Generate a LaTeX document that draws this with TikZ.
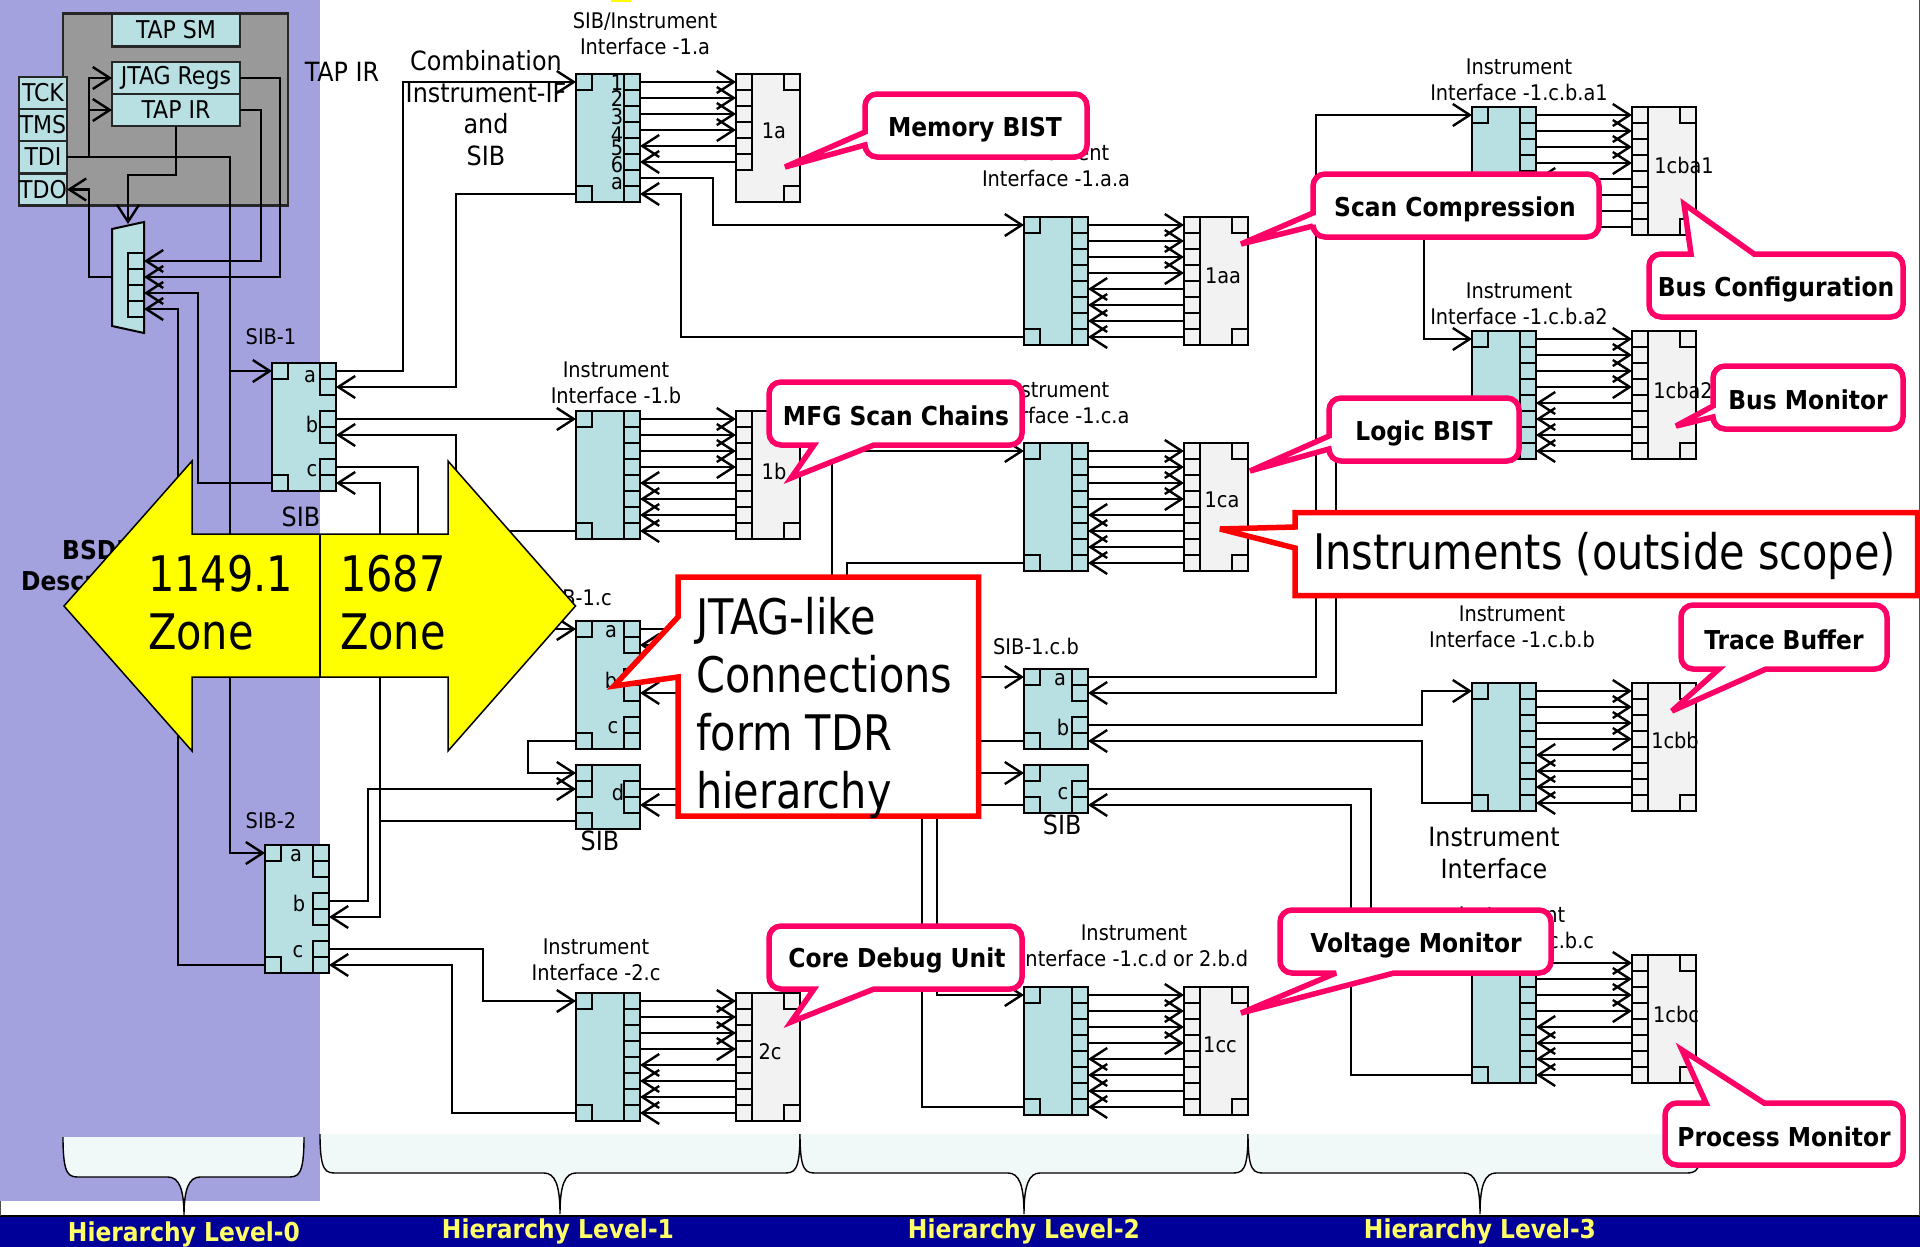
\documentclass[tikz,border=0pt]{standalone}
\usepackage{fontspec}
\setmainfont{DejaVu Sans Condensed}
\newfontfamily\hugefam{DejaVu Sans Condensed}[FakeStretch=0.94]
\usepackage{xcolor}
\usetikzlibrary{arrows.meta, calc}

\definecolor{zonebg}{HTML}{A3A1DE}
\definecolor{ifcyan}{HTML}{B8DFE2}
\definecolor{instgray}{HTML}{F2F2F2}
\definecolor{tapgray}{HTML}{999999}
\definecolor{callpink}{HTML}{FF0066}
\definecolor{barblue}{HTML}{000099}
\definecolor{baryellow}{HTML}{FFFF66}
\definecolor{bracefill}{HTML}{F0F8F8}
\definecolor{zoneyellow}{HTML}{FFFF00}
\definecolor{redline}{HTML}{FF0000}

\tikzset{
    wire/.style={line width=2.4pt},
    cell/.style={draw, line width=2.2pt, fill=none},
    ifbox/.style={draw, line width=2.2pt, fill=ifcyan, inner sep=0pt, outer sep=0pt},
    inbox/.style={draw, line width=2.2pt, fill=instgray, inner sep=0pt, outer sep=0pt},
    tapbox/.style={draw=black!85, line width=2.2pt, fill=ifcyan, inner sep=0pt, outer sep=0pt, minimum height=32pt, font=\tapfont},
    smalltxt/.style={align=center, inner sep=0pt, font=\smallfont},
    bigtxt/.style={align=center, inner sep=0pt, font=\bigfont},
    hugetxt/.style={align=left, anchor=west, inner sep=0pt, font=\hugefont},
    calltxt/.style={inner sep=0pt, yshift=-2.5pt, font=\callfont},
    levtxt/.style={inner sep=0pt, yshift=-2.5pt, text=baryellow, font=\callfont},
    callout/.style={draw=callpink, line width=5.5pt, fill=white, line join=miter, miter limit=4},
    redcall/.style={draw=redline, line width=5.5pt, fill=white, line join=miter, miter limit=6},
    brace/.style={draw, line width=1.4pt, fill=bracefill},
}
\newcommand{\smallfont}{\fontsize{21.5}{26}\selectfont}
\newcommand{\tapfont}{\fontsize{24.5}{26}\selectfont}
\newcommand{\bigfont}{\fontsize{26.5}{31.5}\selectfont}
\newcommand{\hugefont}{\hugefam\fontsize{49}{58}\selectfont}
\newcommand{\callfont}{\fontsize{26}{31}\selectfont\bfseries}

% block of 16pt rows with cells down its sides: style, name, x, y, rows, left cells, right cells
\newcommand{\cellblock}[7]{%
    \node[#1, anchor=north west, minimum width=64pt, minimum height=#5*16pt] (#2) at (#3,#4) {};
    \foreach \r in {#6}{
        \draw[cell] ($(#2.north west)+(0,\r*16)$) rectangle +(16,16);
        \coordinate (#2-l\r) at ($(#2.north west)+(0,\r*16+8)$);
    }
    \foreach \r in {#7}{
        \draw[cell] ($(#2.north east)+(-16,\r*16)$) rectangle +(16,16);
        \coordinate (#2-r\r) at ($(#2.north east)+(0,\r*16+8)$);
    }
}
% hierarchy brace: x left, x right, x tip, y top, y middle, y tip
\newcommand{\levelbrace}[6]{%
    \draw[brace] (#1,#4) .. controls (#1,#5) and (#1+6,#5) .. (#1+17,#5) -- (#3-16,#5)
        .. controls (#3-5,#5) and (#3,#5+12) .. (#3,#6)
        .. controls (#3,#5+12) and (#3+5,#5) .. (#3+16,#5) -- (#2-17,#5)
        .. controls (#2-6,#5) and (#2,#5) .. (#2,#4);
}

\begin{document}
\begin{tikzpicture}[x=1pt, y=-1pt, >={Straight Barb[length=17pt,width=22pt]}, line cap=butt, line join=miter]
    \useasboundingbox (0,0) rectangle (1920,1247);
    \fill[white] (0,0) rectangle (1920,1247);

    % Zones and bar
    \fill[zonebg] (0,0) rectangle (320,1201);
    \fill[zoneyellow] (611,0) rectangle (631,2);
    \fill[barblue] (0,1216) rectangle (1920,1247);
    \draw[line width=1.5pt] (0,1216) -- (1920,1216);
    \draw[line width=1pt, black!70] (1919.5,0) -- (1919.5,1216);
    \draw[line width=1pt, black!70] (0.5,1201) -- (0.5,1216);

    % Braces
    \levelbrace{63}{304}{184}{1137}{1177}{1216}
    \levelbrace{320}{800}{560}{1134}{1173}{1214}
    \levelbrace{800}{1248}{1024}{1134}{1173}{1214}
    \levelbrace{1248}{1702}{1480}{1134}{1173}{1214}

    % TAP
    \fill[tapgray] (63,13.5) rectangle (288,205.5);
    \draw[line width=2.2pt, black!85] (63,77) -- (63,13.5) -- (288,13.5) -- (288,205.5) -- (67,205.5);
    \node[tapbox, minimum width=128pt, minimum height=33pt] (tapsm) at (176,30) {TAP SM};
    \node[tapbox, minimum width=128pt] (jtagregs) at (176,78) {\raisebox{-1.5pt}{JTAG Regs}};
    \node[tapbox, minimum width=128pt] (tapir) at (176,110) {TAP IR};
    \foreach \nm/\y/\txt in {tck/93/TCK, tms/125/TMS, tdi/157/TDI, tdo/189.5/TDO}{
        \node[tapbox, minimum width=48pt] (\nm) at (43,\y) {\txt};
    }

    % Mux
    \draw[line width=2pt, fill=ifcyan] (112,229) -- (144,222) -- (144,333) -- (112,326) -- cycle;
    \coordinate (mux-t) at (128,224);
    \coordinate (mux-l) at (112,277);
    \foreach \r in {0,...,3}{
        \draw[cell] (128,253+\r*16) rectangle +(16,16);
        \coordinate (mux-r\r) at (144,261+\r*16);
    }

    % SIBs
    \cellblock{ifbox}{sib1}{272}{363}{8}{0,7}{0,1,3,4,6,7}
    \cellblock{ifbox}{sib2}{265}{845}{8}{0,7}{0,1,3,4,6,7}
    \cellblock{ifbox}{sib1c}{576}{621}{8}{0,7}{0,1,3,4,6,7}
    \cellblock{ifbox}{sibd}{576}{765}{4}{0,1,3}{1,2}
    \cellblock{ifbox}{sibcb}{1024}{669}{5}{0,4}{0,1,3,4}
    \cellblock{ifbox}{sibc}{1024}{765}{3}{0,2}{1,2}

    % Interface and instrument 1a
    \cellblock{ifbox}{if1a}{576}{74}{8}{0,7}{0,...,7}
    \cellblock{inbox}{in1a}{736}{74}{8}{0,...,5}{0,7}
    \node[smalltxt] (lab1a) at (774,131) {1a};
    \foreach \r in {0,...,3}{
        \draw[wire,->] (if1a-r\r) -- (in1a-l\r);
    }
    \foreach \r in {4,5}{
        \draw[wire,<-] (if1a-r\r) -- (in1a-l\r);
    }

    % The other interfaces with their instruments
    \foreach \nm/\x/\y/\lx/\ly in {
        1aa/1024/217/1223/276,
        1b/576/411/774/471,
        1ca/1024/443/1222/500,
        1cba1/1472/107/1684/165,
        1cba2/1472/331/1683/390,
        1cbb/1472/683/1675/740,
        1cbc/1472/955/1676/1014,
        1cc/1024/987/1220/1045,
        2c/576/993/770/1052
    }{
        \cellblock{ifbox}{if\nm}{\x}{\y}{8}{0,7}{0,...,7}
        \cellblock{inbox}{in\nm}{\x+160}{\y}{8}{0,...,7}{0,7}
        \node[smalltxt] (lab\nm) at (\lx,\ly) {\nm};
        \foreach \r in {0,...,3}{
            \draw[wire,->] (if\nm-r\r) -- (in\nm-l\r);
        }
        \foreach \r in {4,...,7}{
            \draw[wire,<-] (if\nm-r\r) -- (in\nm-l\r);
        }
    }

    % TAP wires
    \draw[wire,->] (tdi.east) -- ++(22,0) |- (jtagregs.west);
    \draw[wire,->] (tdi.east) -- ++(22,0) |- (tapir.west);
    \draw[wire,->] (tdi.east) -- ++(163,0) |- (sib1-l0);
    \draw[wire,->] (tdi.east) -- ++(163,0) |- (sib2-l0);
    \draw[wire,<-] (tdo.east) -- ++(22,0) |- (mux-l);
    \draw[wire,->] (tapir.south) -- ++(0,49) -| (mux-t);
    \draw[wire,->] (jtagregs.east) -- ++(40,0) |- (mux-r1);
    \draw[wire,->] (tapir.east) -- ++(21,0) |- (mux-r0);
    \draw[wire,<-] (mux-r2) -- ++(54,0) |- (sib1-l7);
    \draw[wire,<-] (mux-r3) -- ++(34,0) |- (sib2-l7);

    % SIB-1 and SIB-2 wires
    \draw[wire,->] (sib1-r0) -- ++(67,0) |- (if1a-l0);
    \draw[wire,<-] (sib1-r1) -- ++(120,0) |- (if1a-l7);
    \draw[wire,->] (sib1-r3) -- (if1b-l0);
    \draw[wire,<-] (sib1-r4) -- ++(120,0) |- (if1b-l7);
    \draw[wire,->] (sib1-r6) -- ++(82,0) |- (sib1c-l0);
    \draw[wire,<-] (sib1-r7) -- ++(44,0) |- (sibd-l3);
    \draw[wire,->] (sib2-r3) -- ++(39,0) |- (sibd-l1);
    \draw[wire,<-] (sib2-r4) -- ++(51,0) |- (sibd-l3);
    \draw[wire,->] (sib2-r6) -- ++(154,0) |- (if2c-l0);
    \draw[wire,<-] (sib2-r7) -- ++(123,0) |- (if2c-l7);
    \draw[wire,->] (sib1c-l7) -- ++(-48,0) |- (sibd-l0);

    % Level-1 to level-2 wires
    \draw[wire,->] (if1a-r6) -- ++(73,0) |- (if1aa-l0);
    \draw[wire,<-] (if1a-r7) -- ++(41,0) |- (if1aa-l7);
    \draw[wire,->] (sib1c-r0) -- ++(192,0) |- (if1ca-l0);
    \draw[wire,<-] (sib1c-r1) -- ++(207,0) |- (if1ca-l7);
    \draw[wire,->] (sib1c-r3) -- (sibcb-l0);
    \draw[wire,<-] (sib1c-r4) -- ++(100,0) |- (sibcb-l4);
    \draw[wire,->] (sibd-r1) -- ++(297,0) |- (if1cc-l0);
    \draw[wire,<-] (sibd-r2) -- ++(282,0) |- (if1cc-l7);
    \coordinate (jtag-c) at (900,773);
    \coordinate (jtag-d) at (900,805);
    \draw[wire,->] (jtag-c) -- (sibc-l0);
    \draw[wire] (jtag-d) -- (sibc-l2);

    % Level-2 to level-3 wires
    \draw[wire,->] (sibcb-r0) -- ++(228,0) |- (if1cba1-l0);
    \draw[wire,<-] (sibcb-r1) -- ++(248,0) |- (if1cba2-l7);
    \draw[wire,->] (if1cba1-l7) -- ++(-48,0) |- (if1cba2-l0);
    \draw[wire,->] (sibcb-r3) -- ++(334,0) |- (if1cbb-l0);
    \draw[wire,<-] (sibcb-r4) -- ++(334,0) |- (if1cbb-l7);
    \draw[wire,->] (sibc-r1) -- ++(283,0) |- (if1cbc-l0);
    \draw[wire,<-] (sibc-r2) -- ++(263,0) |- (if1cbc-l7);

    % Letters on the blocks
    \foreach \nm/\x/\y/\txt in {
        num1/617/83/1, num2/617/99/2, num3/617/117/3, num4/617/135/4, num5/617/148/5, num6/617/165/6, numa/617/184/a,
        letsa/310/377/a, letsb/312/424/b, letsc/312/471/c,
        letta/296/856/a, lettb/299/903/b, lettc/298/952/c,
        letua/611/632/a, letub/611/680/b, letuc/613/728/c, letud/618/792/d,
        letva/1060/680/a, letvb/1063/727/b, letvc/1066/794/c
    }{
        \node[smalltxt] (\nm) at (\x,\y) {\txt};
    }

    % Small labels
    \foreach \nm/\x/\y/\txt in {
        txtif1a/645/34/{SIB/Instrument\\Interface -1.a},
        txtif1aa/1056/166/{Instrument\\Interface -1.a.a},
        txtif1b/616/383/{Instrument\\Interface -1.b},
        txtif1ca/1056/403/{Instrument\\Interface -1.c.a},
        txtif2c/596/960/{Instrument\\Interface -2.c},
        txtif1cc/1134/946/{Instrument\\Interface -1.c.d or 2.b.d},
        txtif1cba1/1519/80/{Instrument\\Interface -1.c.b.a1},
        txtif1cba2/1519/304/{Instrument\\Interface -1.c.b.a2},
        txtif1cbb/1512/627/{Instrument\\Interface -1.c.b.b},
        txtif1cbc/1512/928/{Instrument\\Interface -1.c.b.c},
        txtsib1/271/337/SIB-1,
        txtsib2/271/821/SIB-2,
        txtsib1c/578/598/SIB-1.c,
        txtsibcb/1039/646/SIB-1.c.b
    }{
        \node[smalltxt] (\nm) at (\x,\y) {\txt};
    }

    % Bigger labels
    \foreach \nm/\x/\y/\txt in {
        txtinst/1494/853/{Instrument\\Interface},
        txtcomb/486/108/{Combination\\Instrument-IF\\and\\SIB},
        txttapir/342/72/TAP IR,
        txtsiba/301/517/SIB,
        txtsibb/600/841/SIB,
        txtsibc/1066/825/SIB
    }{
        \node[bigtxt] (\nm) at (\x,\y) {\txt};
    }
    \node[calltxt, anchor=west] (txtbsdl) at (62,548) {BSDL};
    \node[calltxt, anchor=west] (txtdesc) at (21,581) {Description};

    % Double arrow
    \draw[line width=1.5pt, fill=zoneyellow] (64,606) -- (192,461) -- (192,534) -- (448,534) -- (448,461)
        -- (575.5,606) -- (448,751) -- (448,677) -- (192,677) -- (192,751) -- cycle;
    \draw[line width=1.5pt] (320,534) -- (320,677);
    \node[hugetxt] (zone1149) at (148,603) {1149.1\\Zone};
    \node[hugetxt] (zone1687) at (340,603) {1687\\Zone};

    % Red callouts
    \draw[redcall] (678,617) -- (678,577) -- (978.5,577) -- (978.5,816) -- (678,816) -- (678,677) -- (614,686) -- cycle;
    \node[hugetxt] (jtagtxt) at (696,708) {JTAG-like\\Connections\\form TDR\\hierarchy};
    \draw[redcall] (1295,527) -- (1295,512.5) -- (1917.5,512.5) -- (1917.5,595.5) -- (1295,595.5) -- (1295,548) -- (1220,529) -- cycle;
    \node[hugetxt] (insttxt) at (1313,556) {Instruments (outside scope)};

    % Pink callouts
    \draw[callout] (865,132) [rounded corners=12pt] -- (865,94) -- (1087,94) -- (1087,157) -- (865,157) [sharp corners] -- (865,145) -- (785,167) -- cycle;
    \node[calltxt] (callmem) at (975,127) {Memory BIST};
    \draw[callout] (814,445) [rounded corners=12pt] -- (769,445) -- (769,382) -- (1022,382) -- (1022,445) [sharp corners] -- (874,445) -- (791,478) -- cycle;
    \node[calltxt] (callmfg) at (896,413) {MFG Scan Chains};
    \draw[callout] (814,989) [rounded corners=12pt] -- (769,989) -- (769,926) -- (1022,926) -- (1022,989) [sharp corners] -- (874,989) -- (791,1022) -- cycle;
    \node[calltxt] (callcore) at (897,958) {Core Debug Unit};
    \draw[callout] (1313,213) [rounded corners=12pt] -- (1313,174) -- (1599,174) -- (1599,237) -- (1313,237) [sharp corners] -- (1313,226) -- (1241,244) -- cycle;
    \node[calltxt] (callscan) at (1455,207) {Scan Compression};
    \draw[callout] (1329,436) [rounded corners=12pt] -- (1329,398) -- (1519,398) -- (1519,461) -- (1329,461) [sharp corners] -- (1329,449) -- (1250,471) -- cycle;
    \node[calltxt] (calllogic) at (1424,431) {Logic BIST};
    \draw[callout] (1691,254) [rounded corners=12pt] -- (1649,254) -- (1649,317) -- (1903,317) -- (1903,254) [sharp corners] -- (1754,254) -- (1684,204) -- cycle;
    \node[calltxt] (callbus) at (1776,287) {Bus Configuration};
    \draw[callout] (1713,406) [rounded corners=12pt] -- (1713,366) -- (1903,366) -- (1903,429) -- (1713,429) [sharp corners] -- (1713,417) -- (1676,426) -- cycle;
    \node[calltxt] (callmon) at (1808,397) {Bus Monitor};
    \draw[callout] (1719,669) [rounded corners=12pt] -- (1681,669) -- (1681,605) -- (1887,605) -- (1887,669) [sharp corners] -- (1766,669) -- (1672,711) -- cycle;
    \node[calltxt] (calltrace) at (1784,637) {Trace Buffer};
    \draw[callout] (1336,973) [rounded corners=12pt] -- (1280,973) -- (1280,910) -- (1551,910) -- (1551,973) [sharp corners] -- (1394,973) -- (1241,1013) -- cycle;
    \node[calltxt] (callvolt) at (1416,943) {Voltage Monitor};
    \draw[callout] (1706,1103) [rounded corners=12pt] -- (1665,1103) -- (1665,1165) -- (1903,1165) -- (1903,1103) [sharp corners] -- (1764,1103) -- (1682,1050) -- cycle;
    \node[calltxt] (callproc) at (1784,1134) {Process Monitor};

    % Hierarchy levels
    \node[levtxt] (lev0) at (184,1232) {Hierarchy Level-0};
    \node[levtxt] (lev1) at (558,1229) {Hierarchy Level-1};
    \node[levtxt] (lev2) at (1024,1229) {Hierarchy Level-2};
    \node[levtxt] (lev3) at (1480,1229) {Hierarchy Level-3};
\end{tikzpicture}
\end{document}
